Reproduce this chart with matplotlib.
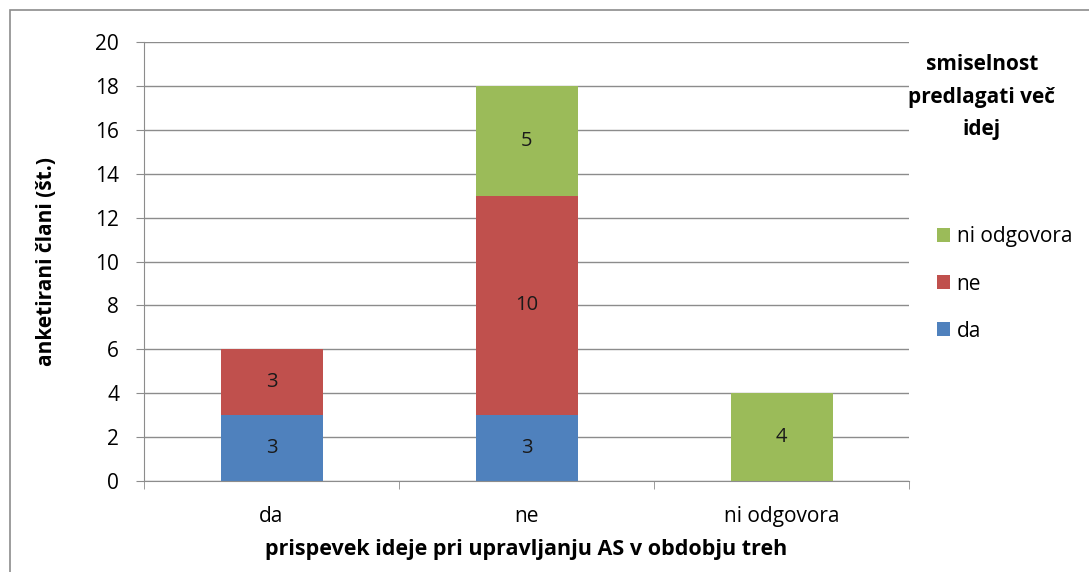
import matplotlib.pyplot as plt
from matplotlib.patches import Rectangle
import numpy as np

plt.rcParams['font.family'] = ['Open Sans', 'DejaVu Sans']

# podatki
kategorije = ['da', 'ne', 'ni odgovora']
serije = ['da', 'ne', 'ni odgovora']
vrednosti = {
    'da': [3, 3, 0],
    'ne': [3, 10, 0],
    'ni odgovora': [0, 5, 4],
}
barve = {'da': '#4F81BD', 'ne': '#C0504D', 'ni odgovora': '#9BBB59'}

fig = plt.figure(figsize=(10.89, 5.72), dpi=100)
W, H = 1089, 572
ax = fig.add_axes([144 / W, 1 - 481 / H, (909 - 144) / W, (481 - 42) / H])

# okvir grafikona
fig.patches.append(Rectangle((10 / W, -0.05), 1.1, 1 - 10 / H + 0.05,
                             transform=fig.transFigure, fill=False,
                             edgecolor='#8c8c8c', linewidth=1.2))

x = np.arange(len(kategorije))
spodaj = np.zeros(len(kategorije))
rocaji = []
for s in serije:
    v = np.array(vrednosti[s], dtype=float)
    b = ax.bar(x, v, 0.4, bottom=spodaj, color=barve[s], label=s)
    rocaji.append(b)
    for xi, vi, bi in zip(x, v, spodaj):
        if vi > 0:
            ax.text(xi, bi + vi / 2, f'{int(vi)}', ha='center', va='center',
                    fontsize=14.5, color='#1a1a1a')
    spodaj += v

ax.set_xlim(-0.5, 2.5)
ax.set_ylim(0, 20)
ax.set_yticks(range(0, 21, 2))
ax.yaxis.grid(True, color='#8c8c8c', linewidth=1)
ax.set_axisbelow(True)
ax.set_xticks(x)
ax.set_xticklabels(kategorije)
ax.set_xticks([-0.5, 0.5, 1.5, 2.5], minor=True)
ax.tick_params(axis='x', which='major', length=0, pad=18, labelsize=15)
ax.tick_params(axis='x', which='minor', length=6, color='#8c8c8c')
ax.tick_params(axis='y', length=6, color='#8c8c8c', labelsize=15, pad=12)
for sp in ['top', 'right']:
    ax.spines[sp].set_visible(False)
for sp in ['left', 'bottom']:
    ax.spines[sp].set_color('#8c8c8c')

ax.set_ylabel('anketirani člani (št.)', fontsize=15, fontweight='bold')
ax.yaxis.set_label_coords(-0.114, 0.5)
ax.set_xlabel('prispevek ideje pri upravljanju AS v obdobju treh', fontsize=15.5,
              fontweight='bold', labelpad=9)

fig.text(982 / W, 1 - 97 / H, 'smiselnost\npredlagati več\nidej', ha='center',
         va='center', fontsize=15, fontweight='bold', linespacing=1.72)
leg = fig.legend(handles=rocaji[::-1], labels=serije[::-1], loc='center left',
                 bbox_to_anchor=(918 / W, 1 - 284 / H), frameon=False,
                 fontsize=15, handlelength=0.65, handleheight=0.65,
                 handletextpad=0.3, labelspacing=1.25)

fig.savefig('out.png', dpi=100)
